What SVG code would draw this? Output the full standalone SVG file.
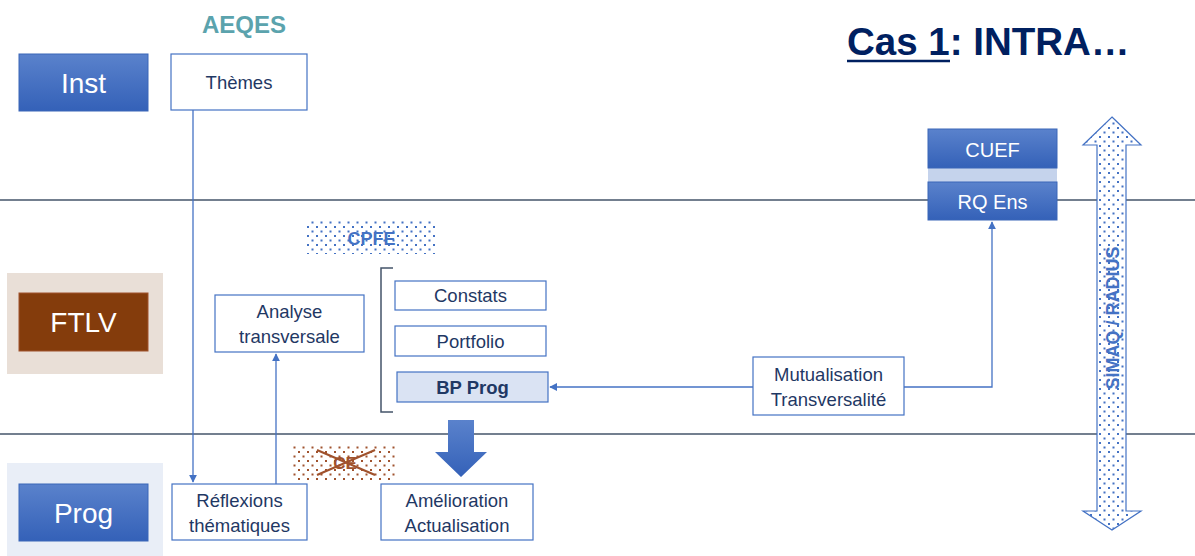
<svg xmlns="http://www.w3.org/2000/svg" width="1195" height="556" viewBox="0 0 1195 556">
<defs>
<linearGradient id="gBlue" x1="0" y1="0" x2="0" y2="1"><stop offset="0" stop-color="#5a82cc"/><stop offset="1" stop-color="#3461b8"/></linearGradient>
<pattern id="dotsBlue" width="9" height="9" patternUnits="userSpaceOnUse"><rect width="9" height="9" fill="#fff"/><rect x="1" y="1" width="2" height="2" fill="#4472c4"/><rect x="5.5" y="5.5" width="2" height="2" fill="#4472c4"/></pattern>
<pattern id="dotsBrown" width="9" height="9" patternUnits="userSpaceOnUse"><rect width="9" height="9" fill="#fff"/><rect x="1" y="1" width="2" height="2" fill="#a0522d"/><rect x="5.5" y="5.5" width="2" height="2" fill="#a0522d"/></pattern>
<marker id="arr" viewBox="0 0 10 10" refX="9" refY="5" markerWidth="6" markerHeight="6" orient="auto-start-reverse"><path d="M0,0 L10,5 L0,10 z" fill="#4472c4"/></marker>
<style>
.sep{stroke:#44546a;stroke-width:1.3}
.box{fill:#fff;stroke:#4472c4;stroke-width:1.2}
.t{font-family:"Liberation Sans",Arial,sans-serif;fill:#1f3864;font-size:18.5px;text-anchor:middle}
.w{font-family:"Liberation Sans",Arial,sans-serif;fill:#fff;font-size:28px;text-anchor:middle}
.con{stroke:#4472c4;stroke-width:1.3;fill:none}
</style>
</defs>
<rect width="1195" height="556" fill="#fff"/>
<line class="sep" x1="0" y1="200" x2="1195" y2="200"/>
<line class="sep" x1="0" y1="434" x2="1195" y2="434"/>

<text x="847" y="55" font-family="Liberation Sans,Arial,sans-serif" font-weight="bold" font-size="38.5" fill="#002060">Cas 1: INTRA…</text>
<line x1="847" y1="61" x2="950" y2="61" stroke="#002060" stroke-width="2.5"/>

<g id="aeqes"><text x="244" y="33" font-family="Liberation Sans,Arial,sans-serif" font-weight="bold" font-size="24" fill="#5ba3ad" text-anchor="middle">AEQES</text></g>

<g id="inst"><rect x="19" y="54" width="129" height="57" fill="url(#gBlue)" stroke="#3a66b8"/><text class="w" x="83.5" y="93">Inst</text></g>
<g id="ftlv"><rect x="7" y="273" width="156" height="101" fill="#e9dfd7"/><rect x="19" y="293" width="129" height="58" fill="#843c0c" stroke="#a0522d"/><text class="w" x="83.5" y="332">FTLV</text></g>
<g id="prog"><rect x="7" y="463" width="156" height="93" fill="#e9eef7"/><rect x="19" y="484" width="129" height="57" fill="url(#gBlue)" stroke="#3a66b8"/><text class="w" x="83.5" y="523">Prog</text></g>

<g id="themes"><rect class="box" x="171" y="54" width="136" height="56"/><text class="t" x="239" y="89">Thèmes</text></g>
<g id="reflexions"><rect class="box" x="172" y="484" width="135" height="56"/><text class="t" x="239.5" y="507">Réflexions</text><text class="t" x="239.5" y="532">thématiques</text></g>
<g id="analyse"><rect class="box" x="215" y="295" width="149" height="57"/><text class="t" x="289.5" y="318">Analyse</text><text class="t" x="289.5" y="343">transversale</text></g>

<g id="cpfe"><rect x="307" y="221" width="129" height="33" fill="url(#dotsBlue)"/><text x="371.5" y="245" font-family="Liberation Sans,Arial,sans-serif" font-weight="bold" font-size="18" fill="#4472c4" text-anchor="middle">CPFE</text></g>

<g id="bracket"><path d="M393,268 L381,268 L381,412 L393,412" fill="none" stroke="#44546a" stroke-width="1.5"/></g>
<g id="constats"><rect class="box" x="395" y="281" width="151" height="29"/><text class="t" x="470.5" y="302">Constats</text></g>
<g id="portfolio"><rect class="box" x="395" y="326" width="151" height="30"/><text class="t" x="470.5" y="348">Portfolio</text></g>
<g id="bpprog"><rect x="397" y="372" width="151" height="30" fill="#dae3f3" stroke="#4472c4" stroke-width="1.2"/><text class="t" x="472.5" y="394" font-weight="bold">BP Prog</text></g>

<g id="bigarrow"><path d="M448,420 L474,420 L474,452 L487,452 L461,477 L435,452 L448,452 Z" fill="url(#gBlue)"/></g>

<g id="ce"><rect x="293" y="444" width="104" height="37" fill="url(#dotsBrown)"/><text x="345" y="469" font-family="Liberation Sans,Arial,sans-serif" font-weight="bold" font-size="17" fill="#a0522d" text-anchor="middle">CE</text><line x1="317" y1="450" x2="375" y2="475" stroke="#a0522d" stroke-width="2.2"/><line x1="317" y1="475" x2="375" y2="450" stroke="#a0522d" stroke-width="2.2"/></g>

<g id="amelioration"><rect class="box" x="381" y="484" width="152" height="56"/><text class="t" x="457" y="507">Amélioration</text><text class="t" x="457" y="532">Actualisation</text></g>

<g id="mutualisation"><rect class="box" x="753" y="357" width="151" height="58"/><text class="t" x="828.5" y="381">Mutualisation</text><text class="t" x="828.5" y="406">Transversalité</text></g>

<g id="cuef"><rect x="928" y="168" width="129" height="14" fill="#c5d3ec"/><rect x="928" y="129" width="129" height="39" fill="url(#gBlue)" stroke="#3a66b8"/><text x="992.5" y="157" font-family="Liberation Sans,Arial,sans-serif" font-size="20" fill="#fff" text-anchor="middle">CUEF</text></g>
<g id="rqens"><rect x="928" y="182" width="129" height="38" fill="url(#gBlue)" stroke="#3a66b8"/><text x="992.5" y="209" font-family="Liberation Sans,Arial,sans-serif" font-size="20" fill="#fff" text-anchor="middle">RQ Ens</text></g>

<g id="simaq"><path d="M1112,117 L1141,145 L1126,145 L1126,511 L1141,511 L1112,530 L1083,511 L1097,511 L1097,145 L1083,145 Z" fill="url(#dotsBlue)" stroke="#4472c4" stroke-width="1.2"/><text transform="translate(1118.5,318) rotate(-90)" font-family="Liberation Sans,Arial,sans-serif" font-weight="bold" font-size="18" fill="#4472c4" text-anchor="middle">SIMAQ / RADIUS</text></g>

<g id="connectors">
<line class="con" x1="193" y1="110" x2="193" y2="482" marker-end="url(#arr)"/>
<line class="con" x1="276" y1="484" x2="276" y2="354" marker-end="url(#arr)"/>
<line class="con" x1="753" y1="387" x2="550" y2="387" marker-end="url(#arr)"/>
<polyline class="con" points="904,387 992,387 992,222" marker-end="url(#arr)"/>
</g>
</svg>
